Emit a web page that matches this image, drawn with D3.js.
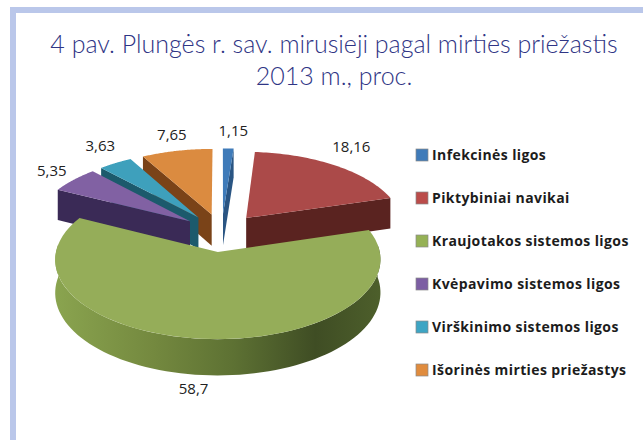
<!DOCTYPE html>
<html>
<head>
<meta charset="utf-8">
<script src="https://cdn.jsdelivr.net/npm/d3@7"></script>
<style>
  html, body { margin: 0; padding: 0; background: #fff; }
  svg { display: block; }
</style>
</head>
<body>
<div id="my_dataviz"></div>
<script>
// data
var categories = ["Infekcinės ligos", "Piktybiniai navikai", "Kraujotakos sistemos ligos",
                  "Kvėpavimo sistemos ligos", "Virškinimo sistemos ligos", "Išorinės mirties priežastys"];
var values = [1.15, 18.16, 58.7, 5.35, 3.63, 7.65];
var valueLabels = ["1,15", "18,16", "58,7", "5,35", "3,63", "7,65"];
var titleLines = ["4 pav. Plungės r. sav. mirusieji pagal mirties priežastis", "2013 m., proc."];

// colours of each slice
var topColors = ["#3f7bb9", "#ab4a49", "#95ad59", "#8161a3", "#3ea0bc", "#db8b40"];
var sideColors = ["#2a5583", "#5a2320", "#5f7434", "#3a2a56", "#1c5a6c", "#7a4318"];
var swatchColors = ["#3f7bb9", "#bb4c4a", "#95b155", "#7c5ea3", "#3ea5c4", "#e08c3e"];

var width = 643, height = 440;

var svg = d3.select("#my_dataviz")
  .append("svg")
    .attr("width", width)
    .attr("height", height);

// frame of the slide
svg.append("rect").attr("x", 10).attr("y", 7).attr("width", width - 10).attr("height", 6).attr("fill", "#bac7ea");
svg.append("rect").attr("x", 10).attr("y", 7).attr("width", 6).attr("height", height - 7).attr("fill", "#bac7ea");

// title
svg.selectAll(".title")
  .data(titleLines)
  .enter()
  .append("text")
    .attr("class", "title")
    .attr("x", 334)
    .attr("y", function(d, i) { return 53 + i * 32; })
    .attr("text-anchor", "middle")
    .style("font-family", "Lato")
    .style("font-weight", "300")
    .style("font-size", "25px")
    .style("fill", "#2f3585")
    .text(function(d) { return d; });

// pie in 3d, all slices go through d3.pie
var pie = d3.pie().sort(null).value(function(d) { return d; });
var slices = pie(values);

var cx = 221.5, cy = 232.5;    // where the pie sits on screen
var radius = 158, explode = 40, tilt = 0.475, depth = 32, persp = 0.0006;

// ground plane -> screen. a is clockwise from the top
function project(sx, sy, z) {
  var s = 1 / (1 - persp * sy);
  return [cx + sx * s, cy + sy * tilt * s + (z || 0) * s];
}
function midAngle(d) { return (d.startAngle + d.endAngle) / 2; }
function rimPoint(d, a, r, z) {
  var m = midAngle(d);
  return project(Math.sin(m) * explode + Math.sin(a) * r,
                 -Math.cos(m) * explode - Math.cos(a) * r, z);
}
function apex(d, z) { return rimPoint(d, 0, 0, z); }

var line = d3.line();

function topPath(d) {
  var pts = [apex(d, 0)];
  d3.range(0, 61).forEach(function(i) {
    pts.push(rimPoint(d, d.startAngle + (d.endAngle - d.startAngle) * i / 60, radius, 0));
  });
  return line(pts) + "Z";
}
function facePath(d, a) {
  return line([apex(d, 0), rimPoint(d, a, radius, 0), rimPoint(d, a, radius, depth), apex(d, depth)]) + "Z";
}
function wallPath(d, a0, a1) {
  var upper = d3.range(0, 81).map(function(i) { return rimPoint(d, a0 + (a1 - a0) * i / 80, radius, 0); });
  var lower = d3.range(80, -1, -1).map(function(i) { return rimPoint(d, a0 + (a1 - a0) * i / 80, radius, depth); });
  return line(upper.concat(lower)) + "Z";
}

// gradient of the big slice's wall
var grad = svg.append("defs").append("linearGradient").attr("id", "wallGreen");
[[0, "#8aa44f"], [0.3, "#74893f"], [0.55, "#5d7133"], [0.8, "#3f4d24"], [1, "#4d5f2b"]].forEach(function(s) {
  grad.append("stop").attr("offset", s[0]).attr("stop-color", s[1]);
});

// back to front: orange, teal, purple, blue, red, green
var drawOrder = [5, 4, 3, 0, 1, 2];
drawOrder.forEach(function(i) {
  var d = slices[i];
  var g = svg.append("g");
  if (i === 2) {
    g.append("path")
      .attr("d", wallPath(d, Math.PI * 0.47, Math.PI * 1.53))
      .attr("fill", "url(#wallGreen)");
  } else {
    // right side slices show their end face, left side ones the start face
    var a = midAngle(d) < Math.PI ? d.endAngle : d.startAngle;
    g.append("path")
      .attr("d", facePath(d, a))
      .attr("fill", sideColors[i]);
  }
  g.append("path")
    .attr("d", topPath(d))
    .attr("fill", topColors[i]);
});

// value labels, anchored to the rim and moved off it like in the original
var labelShift = [[5, -12], [16, -14], [-8, 55], [-22, -4], [-15, -12], [-5, -11]];
svg.selectAll(".val")
  .data(slices)
  .enter()
  .append("text")
    .attr("class", "val")
    .attr("x", function(d, i) { return rimPoint(d, midAngle(d), radius, 0)[0] + labelShift[i][0]; })
    .attr("y", function(d, i) { return rimPoint(d, midAngle(d), radius, 0)[1] + labelShift[i][1]; })
    .attr("text-anchor", "middle")
    .style("font-family", "Open Sans")
    .style("font-size", "15px")
    .style("fill", "#222")
    .text(function(d, i) { return valueLabels[i]; });

// legend
var legendY = d3.scalePoint().domain(categories).range([155, 370]);
var legend = svg.selectAll(".legend")
  .data(categories)
  .enter()
  .append("g")
    .attr("class", "legend")
    .attr("transform", function(d) { return "translate(416," + legendY(d) + ")"; });
legend.append("rect")
    .attr("x", 0).attr("y", -6).attr("width", 12).attr("height", 12)
    .attr("fill", function(d, i) { return swatchColors[i]; })
    .attr("stroke", "#8a8a8a").attr("stroke-width", 0.7);
legend.append("text")
    .attr("x", 16).attr("y", 5)
    .style("font-family", "Open Sans")
    .style("font-weight", "bold")
    .style("font-size", "14px")
    .style("letter-spacing", "0.4px")
    .style("fill", "#1c1c1c")
    .text(function(d) { return d; });
</script>
</body>
</html>
